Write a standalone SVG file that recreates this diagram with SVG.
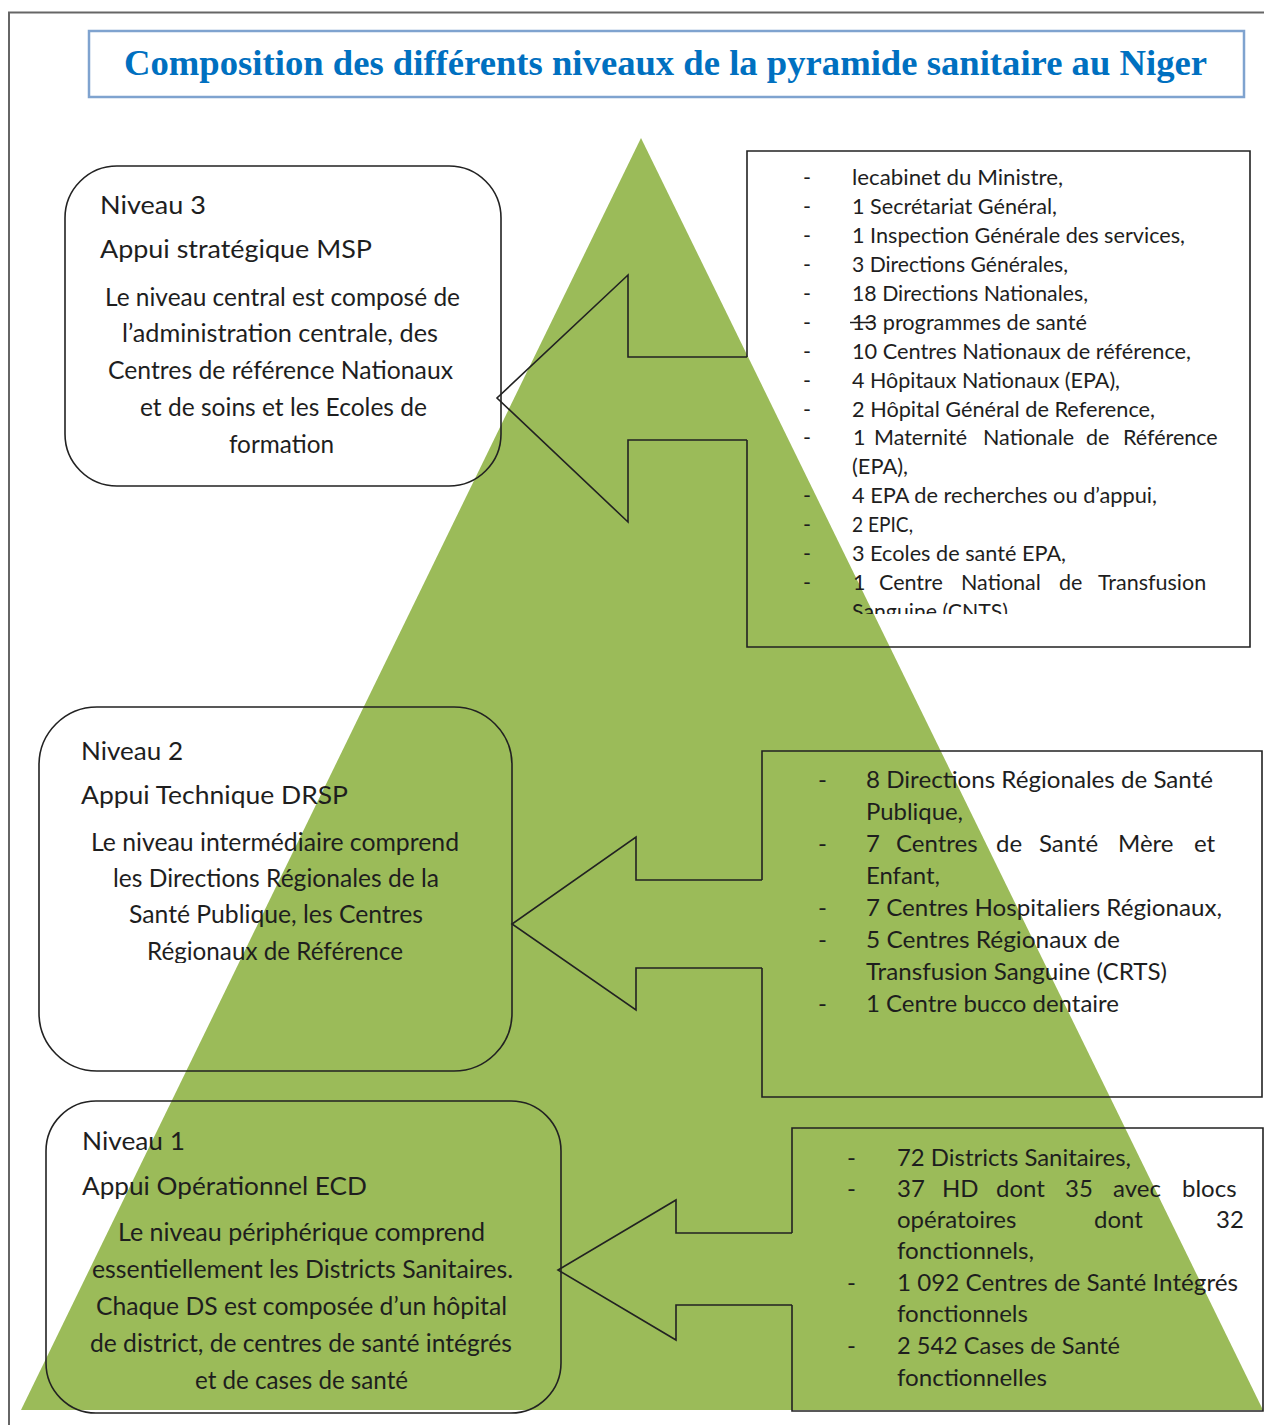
<svg xmlns="http://www.w3.org/2000/svg" width="1264" height="1425" viewBox="0 0 1264 1425">
<style>
.t{font-family:Lato,"Open Sans","Liberation Sans",sans-serif;fill:#1e1e1e}
.tr{font-size:21.5px}
.mr{font-size:24px}
.lb{font-size:25px}
.box{fill:none;stroke:#222;stroke-width:1.6}
.ln{fill:none;stroke:#222;stroke-width:1.6;stroke-linejoin:miter}
</style>
<defs>
<clipPath id="clipTop"><rect x="740" y="140" width="520" height="474"/></clipPath>
<clipPath id="clipN2"><rect x="30" y="700" width="500" height="263"/></clipPath>
</defs>
<rect width="1264" height="1425" fill="#fff"/>
<path d="M9,1425 V12.5 H1264" fill="none" stroke="#666" stroke-width="2"/>
<g id="title">
<rect x="89" y="31" width="1155" height="66" fill="#fff" stroke="#7FA3CF" stroke-width="2.5"/>
<text x="124" y="75" textLength="1083" lengthAdjust="spacingAndGlyphs" font-family="'Liberation Serif',serif" font-weight="bold" font-size="35" fill="#0070C0">Composition des différents niveaux de la pyramide sanitaire au Niger</text>
</g>
<g id="pyramide"><polygon points="641,138 1263,1410 21,1410" fill="#9BBB59"/></g>

<g id="niveau3">
<rect class="box" x="65" y="166" width="436" height="320" rx="52"/>
<text class="t lb" x="100" y="214" textLength="106" lengthAdjust="spacingAndGlyphs">Niveau 3</text>
<text class="t lb" x="100" y="258" textLength="272" lengthAdjust="spacingAndGlyphs">Appui stratégique MSP</text>
<text class="t lb" x="105" y="306" textLength="355" lengthAdjust="spacingAndGlyphs">Le niveau central est composé de</text>
<text class="t lb" x="122" y="342" textLength="316" lengthAdjust="spacingAndGlyphs">l’administration centrale, des</text>
<text class="t lb" x="108" y="379" textLength="345" lengthAdjust="spacingAndGlyphs">Centres de référence Nationaux</text>
<text class="t lb" x="140" y="416" textLength="287" lengthAdjust="spacingAndGlyphs">et de soins et les Ecoles de</text>
<text class="t lb" x="229" y="453" textLength="105" lengthAdjust="spacingAndGlyphs">formation</text>
</g>

<g id="niveau2">
<rect class="box" x="39" y="707" width="473" height="364" rx="58"/>
<text class="t lb" x="81" y="760" textLength="102" lengthAdjust="spacingAndGlyphs">Niveau 2</text>
<text class="t lb" x="81" y="804" textLength="267" lengthAdjust="spacingAndGlyphs">Appui Technique DRSP</text>
<g clip-path="url(#clipN2)">
<text class="t lb" x="91" y="851" textLength="368" lengthAdjust="spacingAndGlyphs">Le niveau intermédiaire comprend</text>
<text class="t lb" x="113" y="887" textLength="326" lengthAdjust="spacingAndGlyphs">les Directions Régionales de la</text>
<text class="t lb" x="129" y="923" textLength="294" lengthAdjust="spacingAndGlyphs">Santé Publique, les Centres</text>
<text class="t lb" x="147" y="960" textLength="256" lengthAdjust="spacingAndGlyphs">Régionaux de Référence</text>
</g>
</g>

<g id="niveau1">
<rect class="box" x="46" y="1101" width="515" height="312" rx="50"/>
<text class="t lb" x="82" y="1150" textLength="103" lengthAdjust="spacingAndGlyphs">Niveau 1</text>
<text class="t lb" x="82" y="1195" textLength="285" lengthAdjust="spacingAndGlyphs">Appui Opérationnel ECD</text>
<text class="t lb" x="118" y="1241" textLength="367" lengthAdjust="spacingAndGlyphs">Le niveau périphérique comprend</text>
<text class="t lb" x="92" y="1278" textLength="421" lengthAdjust="spacingAndGlyphs">essentiellement les Districts Sanitaires.</text>
<text class="t lb" x="96" y="1315" textLength="411" lengthAdjust="spacingAndGlyphs">Chaque DS est composée d’un hôpital</text>
<text class="t lb" x="90" y="1352" textLength="422" lengthAdjust="spacingAndGlyphs">de district, de centres de santé intégrés</text>
<text class="t lb" x="195" y="1389" textLength="213" lengthAdjust="spacingAndGlyphs">et de cases de santé</text>
</g>

<g id="central">
<path class="box" d="M747,440 V647 H1250 V151 H747 V357"/>
<g clip-path="url(#clipTop)">
<g class="t tr">
<text x="803" y="185">-</text><text x="852" y="185" textLength="211" lengthAdjust="spacingAndGlyphs">lecabinet du Ministre,</text>
<text x="803" y="214">-</text><text x="852" y="214" textLength="205" lengthAdjust="spacingAndGlyphs">1 Secrétariat Général,</text>
<text x="803" y="243">-</text><text x="852" y="243" textLength="333" lengthAdjust="spacingAndGlyphs">1 Inspection Générale des services,</text>
<text x="803" y="272">-</text><text x="852" y="272" textLength="216" lengthAdjust="spacingAndGlyphs">3 Directions Générales,</text>
<text x="803" y="301">-</text><text x="852" y="301" textLength="236" lengthAdjust="spacingAndGlyphs">18 Directions Nationales,</text>
<text x="803" y="330">-</text><text x="852" y="330" textLength="235" lengthAdjust="spacingAndGlyphs">13 programmes de santé</text>
<text x="803" y="359">-</text><text x="852" y="359" textLength="339" lengthAdjust="spacingAndGlyphs">10 Centres Nationaux de référence,</text>
<text x="803" y="388">-</text><text x="852" y="388" textLength="268" lengthAdjust="spacingAndGlyphs">4 Hôpitaux Nationaux (EPA),</text>
<text x="803" y="417">-</text><text x="852" y="417" textLength="303" lengthAdjust="spacingAndGlyphs">2 Hôpital Général de Reference,</text>
<text x="803" y="445">-</text><text y="445"><tspan x="853">1</tspan><tspan x="874">Maternité</tspan><tspan x="983">Nationale</tspan><tspan x="1086">de</tspan><tspan x="1123">Référence</tspan></text>
<text x="852" y="474" textLength="56" lengthAdjust="spacingAndGlyphs">(EPA),</text>
<text x="803" y="503">-</text><text x="852" y="503" textLength="305" lengthAdjust="spacingAndGlyphs">4 EPA de recherches ou d’appui,</text>
<text x="803" y="532">-</text><text x="852" y="532" textLength="61" lengthAdjust="spacingAndGlyphs">2 EPIC,</text>
<text x="803" y="561">-</text><text x="852" y="561" textLength="214" lengthAdjust="spacingAndGlyphs">3 Ecoles de santé EPA,</text>
<text x="803" y="590">-</text><text y="590"><tspan x="853">1</tspan><tspan x="879">Centre</tspan><tspan x="961">National</tspan><tspan x="1059">de</tspan><tspan x="1098">Transfusion</tspan></text>
<text x="852" y="619" textLength="156" lengthAdjust="spacingAndGlyphs">Sanguine (CNTS)</text>
</g>
</g>
<line x1="850" y1="322.5" x2="875" y2="322.5" stroke="#1e1e1e" stroke-width="1.5"/>
</g>

<g id="intermediaire">
<path class="box" d="M762,968 V1097 H1262 V751 H762 V880"/>
<g class="t mr">
<text x="818" y="788">-</text><text x="866" y="788" textLength="347" lengthAdjust="spacingAndGlyphs">8 Directions Régionales de Santé</text>
<text x="866" y="820" textLength="97" lengthAdjust="spacingAndGlyphs">Publique,</text>
<text x="818" y="852">-</text><text y="852"><tspan x="866">7</tspan><tspan x="896">Centres</tspan><tspan x="996">de</tspan><tspan x="1039">Santé</tspan><tspan x="1118">Mère</tspan><tspan x="1194">et</tspan></text>
<text x="866" y="884" textLength="74" lengthAdjust="spacingAndGlyphs">Enfant,</text>
<text x="818" y="916">-</text><text x="866" y="916" textLength="356" lengthAdjust="spacingAndGlyphs">7 Centres Hospitaliers Régionaux,</text>
<text x="818" y="948">-</text><text x="866" y="948" textLength="254" lengthAdjust="spacingAndGlyphs">5 Centres Régionaux de</text>
<text x="866" y="980" textLength="301" lengthAdjust="spacingAndGlyphs">Transfusion Sanguine (CRTS)</text>
<text x="818" y="1012">-</text><text x="866" y="1012" textLength="253" lengthAdjust="spacingAndGlyphs">1 Centre bucco dentaire</text>
</g>
</g>

<g id="peripherique">
<path class="box" d="M792,1305 V1411 H1263 V1128 H792 V1233"/>
<g class="t mr">
<text x="847" y="1166">-</text><text x="897" y="1166" textLength="234" lengthAdjust="spacingAndGlyphs">72 Districts Sanitaires,</text>
<text x="847" y="1197">-</text><text y="1197"><tspan x="897">37</tspan><tspan x="942">HD</tspan><tspan x="996">dont</tspan><tspan x="1065">35</tspan><tspan x="1113">avec</tspan><tspan x="1182">blocs</tspan></text>
<text y="1228"><tspan x="897">opératoires</tspan><tspan x="1094">dont</tspan><tspan x="1216">32</tspan></text>
<text x="897" y="1259" textLength="137" lengthAdjust="spacingAndGlyphs">fonctionnels,</text>
<text x="847" y="1291">-</text><text x="897" y="1291" textLength="341" lengthAdjust="spacingAndGlyphs">1 092 Centres de Santé Intégrés</text>
<text x="897" y="1322" textLength="131" lengthAdjust="spacingAndGlyphs">fonctionnels</text>
<text x="847" y="1354">-</text><text x="897" y="1354" textLength="223" lengthAdjust="spacingAndGlyphs">2 542 Cases de Santé</text>
<text x="897" y="1386" textLength="150" lengthAdjust="spacingAndGlyphs">fonctionnelles</text>
</g>
</g>

<g id="connectors">
<path class="ln" d="M747,357 H628 V275 L497,398 L628,522 V440 H747"/>
<path class="ln" d="M762,880 H636 V837 L512,924 L636,1010 V968 H762"/>
<path class="ln" d="M792,1233 H676 V1200 L558,1270 L676,1340 V1305 H792"/>
</g>
</svg>
